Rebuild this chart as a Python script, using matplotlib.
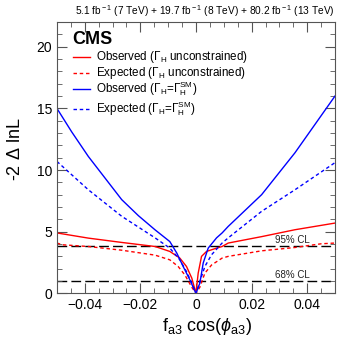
import numpy as np
import matplotlib
matplotlib.use("Agg")
import matplotlib.pyplot as plt
from matplotlib.ticker import MultipleLocator

plt.rcParams['font.family'] = ['Liberation Sans', 'DejaVu Sans']
plt.rcParams['mathtext.fontset'] = 'custom'
plt.rcParams['mathtext.rm'] = 'Liberation Sans'
plt.rcParams['mathtext.it'] = 'Liberation Sans:italic'
plt.rcParams['mathtext.bf'] = 'Liberation Sans:bold'

# Observed, Gamma_H unconstrained (red solid)
x_obs_un = [-0.05, -0.0387, -0.0267, -0.0147, -0.0094, -0.0058, -0.0034, -0.0015, 0.0,
            0.0008, 0.002, 0.0038, 0.0074, 0.0094, 0.0116, 0.0236, 0.0356, 0.05]
y_obs_un = [4.9, 4.48, 4.13, 3.8, 3.4, 2.86, 2.18, 1.24, 0.0,
            1.64, 3.0, 3.4, 3.67, 3.8, 4.08, 4.6, 5.16, 5.7]

# Expected, Gamma_H unconstrained (red dashed)
x_exp_un = [-0.05, -0.048, -0.0387, -0.0267, -0.0147, -0.0094, -0.0064, -0.004, -0.0015, 0.0,
            0.0014, 0.0032, 0.0056, 0.0094, 0.0116, 0.0236, 0.0356, 0.045, 0.05]
y_exp_un = [4.08, 3.94, 3.8, 3.5, 3.1, 2.72, 2.18, 1.5, 0.5, 0.0,
            0.5, 1.64, 2.3, 2.86, 3.0, 3.45, 3.72, 4.02, 4.08]

# Observed, Gamma_H = Gamma_H^SM (blue solid)
x_obs_sm = [-0.05, -0.0447, -0.0387, -0.0327, -0.0267, -0.0207, -0.0147, -0.0094, -0.0069,
            -0.0046, -0.0022, 0.0, 0.0014, 0.0026, 0.0044, 0.0074, 0.0094, 0.0116,
            0.0236, 0.0356, 0.05]
y_obs_sm = [15.0, 13.1, 11.1, 9.35, 7.6, 6.3, 5.15, 4.2, 3.27,
            2.18, 1.1, 0.0, 0.83, 2.46, 3.67, 4.5, 4.9, 5.43,
            8.0, 11.4, 16.0]

# Expected, Gamma_H = Gamma_H^SM (blue dashed)
x_exp_sm = [-0.05, -0.0387, -0.0267, -0.0147, -0.0094, -0.0058, -0.0034, -0.0015, 0.0,
            0.0014, 0.0032, 0.0056, 0.0094, 0.0116, 0.0236, 0.0356, 0.05]
y_exp_sm = [10.7, 8.4, 6.25, 4.5, 3.67, 2.72, 1.77, 0.83, 0.0,
            0.96, 2.18, 3.13, 4.08, 4.5, 6.65, 8.4, 10.6]

cl_values = [3.84, 1.0]
cl_labels = ["95% CL", "68% CL"]

legend_labels = [r"Observed ($\Gamma_{\rm H}$ unconstrained)",
                 r"Expected ($\Gamma_{\rm H}$ unconstrained)",
                 r"Observed ($\Gamma_{\rm H}$=$\Gamma_{\rm H}^{\rm SM}$)",
                 r"Expected ($\Gamma_{\rm H}$=$\Gamma_{\rm H}^{\rm SM}$)"]
legend_colors = ['red', 'red', 'blue', 'blue']
dashed = (0, (2.5, 2))
legend_styles = ['-', dashed, '-', dashed]
legend_rows = [0.870, 0.812, 0.753, 0.680]

fig = plt.figure(figsize=(3.49, 3.38), dpi=100)
ax = fig.add_axes([0.163, 0.132, 0.797, 0.803])

for v, lab in zip(cl_values, cl_labels):
    ax.axhline(v, color='black', lw=1.0, ls=(0, (7, 3)), zorder=1)
    ax.text(0.0345, v + 0.05, lab, ha='center', va='bottom', fontsize=7, color='#222222')

ax.plot(x_obs_un, y_obs_un, color=legend_colors[0], lw=1.0, ls=legend_styles[0])
ax.plot(x_exp_un, y_exp_un, color=legend_colors[1], lw=1.0, ls=legend_styles[1])
ax.plot(x_obs_sm, y_obs_sm, color=legend_colors[2], lw=1.0, ls=legend_styles[2])
ax.plot(x_exp_sm, y_exp_sm, color=legend_colors[3], lw=1.0, ls=legend_styles[3])

ax.set_xlim(-0.05, 0.05)
ax.set_ylim(0, 22)
ax.xaxis.set_minor_locator(MultipleLocator(0.005))
ax.yaxis.set_major_locator(MultipleLocator(5))
ax.yaxis.set_minor_locator(MultipleLocator(1))
ax.set_xticks([-0.04, -0.02, 0, 0.02, 0.04])
ax.set_xticklabels(["\u22120.04", "\u22120.02", "0", "0.02", "0.04"])
ax.tick_params(which='both', direction='in', top=True, right=True, labelsize=10, color='#555555')
ax.tick_params(which='major', length=7)
ax.tick_params(which='minor', length=3.5)
for s in ax.spines.values():
    s.set_color('#555555')

ax.set_ylabel(r"-2 $\Delta$ lnL", fontsize=13)
ax.yaxis.set_label_coords(-0.12, 0.53)
ax.set_xlabel(r"f$_{\rm a3}$ cos($\phi_{\rm a3}$)", fontsize=13)
ax.xaxis.set_label_coords(0.54, -0.085)

ax.text(0.055, 0.937, "CMS", transform=ax.transAxes, fontsize=13, fontweight='bold', va='center')
ax.text(1.0, 1.012, r"5.1 fb$^{\rm -1}$ (7 TeV) + 19.7 fb$^{\rm -1}$ (8 TeV) + 80.2 fb$^{\rm -1}$ (13 TeV)",
        transform=ax.transAxes, ha='right', va='bottom', fontsize=7.3)

# hand-made legend
for lab, c, st, yy in zip(legend_labels, legend_colors, legend_styles, legend_rows):
    ax.plot([0.058, 0.119], [yy, yy], transform=ax.transAxes, color=c, lw=1.0, ls=st)
    ax.text(0.14, yy, lab, transform=ax.transAxes, fontsize=8.4, va='center')

fig.savefig("out.png", dpi=100)
